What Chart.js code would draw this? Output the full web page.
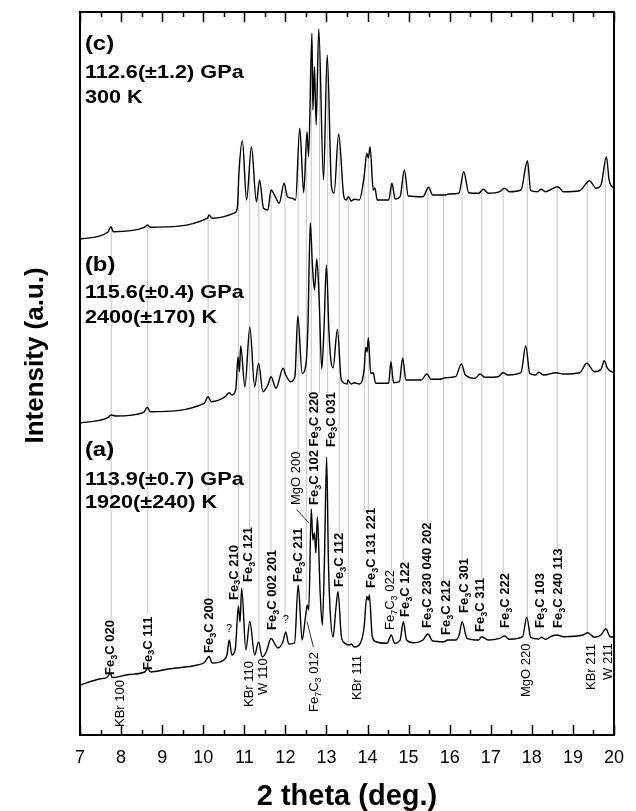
<!DOCTYPE html>
<html>
<head>
<meta charset="utf-8">
<script src="https://cdn.jsdelivr.net/npm/chart.js@4.4.1/dist/chart.umd.min.js"></script>
<style>
  html, body { margin: 0; padding: 0; background: #fff; }
</style>
</head>
<body>
<canvas id="xrd" width="636" height="811"></canvas>
<script>
// (a) 113.9 GPa, 1920 K  -- 2 theta (deg) / intensity (a.u.)
const thetaA = [7.000, 7.477, 7.668, 7.732, 7.787, 8.193, 8.574, 8.646, 8.717, 9.147,
  9.862, 10.029, 10.141, 10.220, 10.499, 10.578, 10.633, 10.697, 10.781, 10.857,
  10.895, 10.936, 11.038, 11.134, 11.253, 11.348, 11.437, 11.532, 11.651, 11.818,
  11.938, 12.009, 12.081, 12.224, 12.312, 12.408, 12.486, 12.534, 12.570, 12.629,
  12.670, 12.708, 12.741, 12.780, 12.844, 12.899, 12.951, 13.004, 13.047, 13.083,
  13.161, 13.226, 13.281, 13.362, 13.440, 13.560, 13.607, 13.679, 13.798, 13.870,
  13.917, 13.982, 14.020, 14.044, 14.115, 14.196, 14.473, 14.578, 14.657, 14.793,
  14.872, 14.950, 15.110, 15.349, 15.468, 15.587, 15.866, 15.945, 16.143, 16.231,
  16.303, 16.422, 16.701, 16.780, 16.940, 17.216, 17.336, 17.455, 17.775, 17.877,
  17.973, 18.171, 18.228, 18.330, 18.490, 18.609, 18.767, 19.244, 19.363, 19.523,
  19.683, 19.802, 19.905, 20.000];
const intA = [50, 56, 58, 62, 57.5, 60.5, 63, 66.5, 63, 66,
  70, 72.5, 78.5, 72, 75, 80, 95, 80, 86, 129,
  113, 146.5, 85, 113.5, 80, 93, 78, 83, 96.5, 87,
  93, 103, 91, 92, 150, 95, 117, 130, 125, 226,
  195, 202, 182, 218, 145, 110, 175, 278, 175, 130,
  98, 125, 143.5, 99, 92, 90, 91, 88, 90, 97,
  108, 138.5, 135, 140, 98.5, 93.5, 91.7, 100, 91.7, 95,
  113.3, 95, 92.3, 95, 101, 94, 93.3, 95, 95, 100,
  113.3, 96.7, 95, 98.3, 95, 96.7, 99, 95.7, 98.3, 117.7,
  97.7, 96, 97.7, 95.7, 99, 100, 98.3, 100, 102.3, 97.7,
  100, 106.3, 98.3, 98];

// (b) 115.6 GPa, 2400 K
const thetaB = [7.000, 7.675, 7.756, 7.875, 8.550, 8.639, 8.710, 10.022, 10.118, 10.196,
  10.537, 10.633, 10.697, 10.793, 10.848, 10.881, 10.912, 11.015, 11.134, 11.253,
  11.348, 11.453, 11.573, 11.651, 11.771, 11.945, 12.009, 12.128, 12.231, 12.303,
  12.408, 12.503, 12.551, 12.606, 12.660, 12.708, 12.765, 12.820, 12.885, 12.939,
  12.999, 13.059, 13.107, 13.161, 13.266, 13.362, 13.505, 13.519, 13.600, 13.679,
  13.798, 13.917, 13.958, 13.989, 14.020, 14.077, 14.139, 14.196, 14.514, 14.569,
  14.633, 14.776, 14.855, 14.936, 15.308, 15.444, 15.547, 15.747, 15.904, 16.143,
  16.286, 16.381, 16.620, 16.739, 16.859, 17.178, 17.298, 17.417, 17.734, 17.853,
  17.949, 18.092, 18.171, 18.290, 18.593, 18.767, 19.165, 19.340, 19.523, 19.683,
  19.762, 19.841, 20.000];
const intB = [312, 317.3, 320, 319, 322.7, 327.7, 323.3, 331.7, 338.3, 333.3,
  338.3, 342.3, 340, 345.7, 378.3, 363.3, 389, 348.3, 407.7, 348.3,
  371.7, 343.3, 350, 358.3, 346.7, 366.7, 360, 353.3, 358.3, 419,
  361.7, 371.7, 412, 512, 468.3, 445, 476, 438.3, 366, 405,
  470, 405, 375, 367, 405.5, 355, 351, 355, 351, 352.3,
  351, 365, 387.7, 383, 397.3, 361.7, 362.3, 351.7, 351.7, 373.3,
  352.3, 353.3, 376.7, 355, 355, 361, 355.7, 355.7, 357.3, 358.3,
  371, 360, 356.7, 361, 357.7, 358.3, 362.3, 360, 362.3, 389,
  361.7, 360, 362.7, 360, 362.3, 361, 362.3, 371.7, 363.3, 365.7,
  374.3, 366.7, 362];

// (c) 112.6 GPa, 300 K
const thetaC = [7.000, 7.675, 7.756, 7.811, 8.550, 8.646, 8.710, 10.101, 10.141, 10.220,
  10.776, 10.833, 10.871, 10.953, 11.055, 11.174, 11.294, 11.372, 11.468, 11.573,
  11.651, 11.754, 11.849, 11.969, 12.050, 12.169, 12.248, 12.350, 12.446, 12.527,
  12.565, 12.646, 12.670, 12.708, 12.749, 12.813, 12.928, 13.018, 13.123, 13.185,
  13.297, 13.424, 13.481, 13.536, 13.600, 13.679, 13.798, 13.917, 13.982, 14.020,
  14.061, 14.139, 14.180, 14.235, 14.514, 14.593, 14.674, 14.793, 14.896, 14.991,
  15.349, 15.485, 15.587, 15.904, 15.969, 16.224, 16.343, 16.463, 16.701, 16.820,
  16.940, 17.216, 17.336, 17.455, 17.734, 17.894, 17.973, 18.133, 18.228, 18.330,
  18.633, 18.767, 19.165, 19.403, 19.563, 19.683, 19.816, 19.881, 20.000];
const intC = [496, 502.7, 508.3, 503.3, 507.3, 510, 507.7, 516.7, 520, 516.7,
  522.3, 528.3, 563.3, 594.3, 535, 588.3, 533.3, 555, 526.7, 525,
  545, 538.3, 531.7, 551.7, 538.3, 536.7, 535, 606.7, 542.3, 603.3,
  578.3, 701.7, 625, 668.3, 610, 706, 555, 680, 548.3, 541.7,
  601, 538.3, 535, 538.3, 534, 535.7, 535, 558.3, 581.7, 577,
  588.3, 545, 547, 535, 535, 551.7, 536, 538.3, 565, 539,
  538.3, 547.7, 540, 540, 541, 541.7, 563.3, 542.3, 541.7, 545.7,
  541.7, 543.3, 546.7, 543.3, 545, 574.3, 544.3, 543.3, 545.7, 543.3,
  548.3, 543.3, 544.3, 554.3, 546.7, 550, 578.3, 555, 546.7];

// reflection markers (grey lines): position and where the line starts
const refPos = [7.76, 8.65, 10.12, 10.86, 11.13, 11.35, 11.65, 11.99, 12.31, 12.51,
  12.63, 12.83, 13.03, 13.31, 13.53, 13.92, 14.02, 14.58, 14.87, 15.47,
  15.85, 16.30, 16.78, 17.30, 17.89, 18.62, 19.35, 19.79];
const refLow = [115, 122, 137, 135, 205, 95, 183, 118, 283, 135,
  342, 342, 342, 202, 90, 223, 223, 163, 173, 210,
  153, 175, 157, 160, 118, 185, 102, 106];

const xTicks = [7, 8, 9, 10, 11, 12, 13, 14, 15, 16, 17, 18, 19, 20];

// peak labels: text ("_" = subscript), 2theta, intensity where text starts, bold
const peakLabels = [
  ["Fe_3C 020", 7.716, 60, true],
  ["Fe_3C 111", 8.629, 65, true],
  ["Fe_3C 200", 10.125, 82, true],
  ["Fe_3C 210", 10.721, 135, true],
  ["Fe_3C 121", 11.067, 153, true],
  ["Fe_3C 002 201", 11.651, 105, true],
  ["Fe_3C 211", 12.296, 153, true],
  ["MgO 200", 12.248, 230, false],
  ["Fe_3C 102 Fe_3C 220", 12.689, 230, true],
  ["Fe_3C 031", 13.083, 288, true],
  ["Fe_3C 112", 13.285, 148, true],
  ["Fe_3C 131 221", 14.061, 147, true],
  ["Fe_7C_3 022", 14.538, 105, false],
  ["Fe_3C 122", 14.896, 118, true],
  ["Fe_3C 230 040 202", 15.420, 107, true],
  ["Fe_3C 212", 15.897, 100, true],
  ["Fe_3C 301", 16.339, 122, true],
  ["Fe_3C 311", 16.732, 103, true],
  ["Fe_3C 222", 17.329, 107, true],
  ["Fe_3C 103", 18.188, 107, true],
  ["Fe_3C 240 113", 18.617, 107, true],
  ["KBr 100", 7.954, 8, false],
  ["KBr 110", 11.096, 28, false],
  ["W 110", 11.437, 40, false],
  ["Fe_7C_3 012", 12.677, 23, false],
  ["KBr 111", 13.715, 35, false],
  ["MgO 220", 17.853, 38, false],
  ["KBr 211", 19.428, 45, false],
  ["W 211", 19.833, 55, false]
];
const unknownPeaks = [[10.626, 106], [12.009, 115]];

// leader lines (MgO 200 and Fe7C3 012)
const leaders = [
  [[12.272, 225.7], [12.565, 212.3]],
  [[12.684, 87.7], [12.527, 113.3]]
];

const panels = [
  { x: 7.119, lines: [["(c)", 685], ["112.6(\u00b11.2) GPa", 657], ["300 K", 632]] },
  { x: 7.119, lines: [["(b)", 464], ["115.6(\u00b10.4) GPa", 437], ["2400(\u00b1170) K", 412]] },
  { x: 7.119, lines: [["(a)", 279], ["113.9(\u00b10.7) GPa", 250], ["1920(\u00b1240) K", 227]] }
];

const FONT = "'Liberation Sans', Arial, Helvetica, sans-serif";

function toPoints(ts, is) {
  return ts.map((t, i) => ({ x: t, y: is[i] }));
}

function traceAt(ts, is, t) {
  for (let i = 1; i < ts.length; i++) {
    if (t <= ts[i]) {
      const f = (t - ts[i - 1]) / (ts[i] - ts[i - 1]);
      return is[i - 1] + f * (is[i] - is[i - 1]);
    }
  }
  return is[is.length - 1];
}

const refPoints = [];
refPos.forEach((t, i) => {
  refPoints.push({ x: t, y: refLow[i] });
  refPoints.push({ x: t, y: traceAt(thetaC, intC, t) });
  refPoints.push({ x: t, y: null });
});

const leaderPoints = [];
leaders.forEach((l) => {
  leaderPoints.push({ x: l[0][0], y: l[0][1] });
  leaderPoints.push({ x: l[1][0], y: l[1][1] });
  leaderPoints.push({ x: l[1][0], y: null });
});

// draws text with single-char subscripts, starting at 0,0 (baseline)
function drawRich(ctx, str, size, weight) {
  let x = 0;
  let run = "";
  const flush = () => {
    if (!run) return;
    ctx.font = `${weight} ${size}px ${FONT}`;
    ctx.fillText(run, x, 0);
    x += ctx.measureText(run).width;
    run = "";
  };
  for (let i = 0; i < str.length; i++) {
    if (str[i] === "_") {
      flush();
      const s = str[i + 1];
      ctx.font = `${weight} ${Math.round(size * 0.68)}px ${FONT}`;
      ctx.fillText(s, x, size * 0.22);
      x += ctx.measureText(s).width;
      i++;
    } else {
      run += str[i];
    }
  }
  flush();
}

const annotations = {
  id: "annotations",
  afterDraw(chart) {
    const ctx = chart.ctx;
    const xs = chart.scales.x;
    const ys = chart.scales.y;
    const area = chart.chartArea;

    // inward tick marks, bottom and top
    ctx.save();
    ctx.strokeStyle = "#000";
    ctx.lineWidth = 1.5;
    for (let v = 7; v <= 20.001; v += 0.5) {
      const px = Math.round(xs.getPixelForValue(v)) + 0.5;
      const len = Number.isInteger(v) ? 10 : 5;
      ctx.beginPath();
      ctx.moveTo(px, area.bottom);
      ctx.lineTo(px, area.bottom - len);
      ctx.moveTo(px, area.top);
      ctx.lineTo(px, area.top + len);
      ctx.stroke();
    }
    ctx.restore();

    // rotated peak labels
    ctx.save();
    ctx.fillStyle = "#000";
    ctx.textBaseline = "alphabetic";
    ctx.textAlign = "left";
    peakLabels.forEach(([text, t, y, bold]) => {
      const size = 13;
      ctx.save();
      ctx.translate(xs.getPixelForValue(t), ys.getPixelForValue(y));
      ctx.rotate(-Math.PI / 2);
      ctx.translate(0, size * 0.36);
      drawRich(ctx, text, size, bold ? "bold" : "normal");
      ctx.restore();
    });
    ctx.font = `normal 11px ${FONT}`;
    ctx.textAlign = "center";
    ctx.textBaseline = "middle";
    unknownPeaks.forEach(([t, y]) => {
      ctx.fillText("?", xs.getPixelForValue(t), ys.getPixelForValue(y));
    });
    ctx.restore();

    // pressure / temperature captions
    ctx.save();
    ctx.fillStyle = "#000";
    ctx.textAlign = "left";
    ctx.textBaseline = "alphabetic";
    panels.forEach((p) => {
      p.lines.forEach(([text, y], i) => {
        ctx.save();
        ctx.translate(xs.getPixelForValue(p.x), ys.getPixelForValue(y));
        ctx.scale(1.14, 1);
        ctx.font = `bold ${i === 0 ? 21 : 19}px ${FONT}`;
        ctx.fillText(text, 0, 0);
        ctx.restore();
      });
    });
    ctx.restore();
  }
};

const traceStyle = {
  borderColor: "#000",
  borderWidth: 1.4,
  pointRadius: 0,
  fill: false,
  cubicInterpolationMode: "monotone",
  order: 0
};

new Chart(document.getElementById("xrd"), {
  type: "line",
  data: {
    datasets: [
      { ...traceStyle, label: "(a)", data: toPoints(thetaA, intA) },
      { ...traceStyle, label: "(b)", data: toPoints(thetaB, intB) },
      { ...traceStyle, label: "(c)", data: toPoints(thetaC, intC) },
      { label: "leaders", data: leaderPoints, borderColor: "#000", borderWidth: 0.8,
        pointRadius: 0, spanGaps: false, tension: 0, order: 1 },
      { label: "reflections", data: refPoints, borderColor: "#c4c4c4", borderWidth: 1,
        pointRadius: 0, spanGaps: false, tension: 0, order: 2 }
    ]
  },
  options: {
    responsive: false,
    animation: false,
    devicePixelRatio: 1,
    layout: { padding: 0 },
    plugins: {
      legend: { display: false },
      tooltip: { enabled: false }
    },
    scales: {
      x: {
        type: "linear",
        position: "bottom",
        min: 7,
        max: 20,
        afterBuildTicks: (s) => { s.ticks = xTicks.map((v) => ({ value: v })); },
        afterFit: (s) => { s.height = 76; },
        ticks: {
          color: "#000",
          padding: 12,
          maxRotation: 0,
          autoSkip: false,
          font: { family: FONT, size: 18 }
        },
        grid: { display: false, drawTicks: false },
        border: { display: true, color: "#000", width: 2 },
        title: {
          display: true,
          text: "2 theta (deg.)",
          color: "#000",
          padding: { top: 0, bottom: 0 },
          font: { family: FONT, size: 29, weight: "bold", lineHeight: 1 }
        }
      },
      xTop: {
        type: "linear",
        position: "top",
        min: 7,
        max: 20,
        afterFit: (s) => { s.height = 12; },
        ticks: { display: false },
        grid: { display: false, drawTicks: false },
        border: { display: true, color: "#000", width: 2 }
      },
      y: {
        type: "linear",
        position: "left",
        min: 0,
        max: 723,
        afterFit: (s) => { s.width = 80; },
        ticks: { display: false },
        grid: { display: false, drawTicks: false },
        border: { display: true, color: "#000", width: 2 },
        title: {
          display: true,
          text: "     Intensity (a.u.)",
          color: "#000",
          padding: { top: 20, bottom: 0 },
          font: { family: FONT, size: 26, weight: "bold", lineHeight: 1.2 }
        }
      },
      yRight: {
        type: "linear",
        position: "right",
        min: 0,
        max: 723,
        afterFit: (s) => { s.width = 11; },
        ticks: { display: false },
        grid: { display: false, drawTicks: false },
        border: { display: true, color: "#000", width: 2 }
      }
    }
  },
  plugins: [annotations]
});
</script>
</body>
</html>
